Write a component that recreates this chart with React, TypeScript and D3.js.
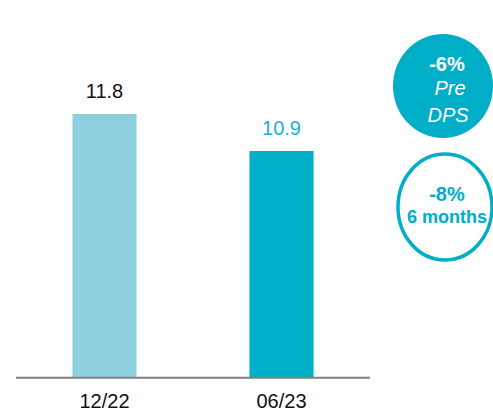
import React from "react";
import * as d3 from "d3";

const categories = ["12/22", "06/23"];
const values = [11.8, 10.9];
const valueLabels = ["11.8", "10.9"];
const badgeFilledLines = ["-6%", "Pre", "DPS"];
const badgeOutlineLines = ["-8%", "6 months"];

const W = 493;
const H = 411;
const FONT = "'Liberation Sans', Arial, sans-serif";
const TEAL = "#00AEC7";
const LIGHT = "#8ECFE0";

export default function App() {
  const x = d3
    .scaleBand<string>()
    .domain(categories)
    .range([16, 370])
    .paddingInner(0.638)
    .paddingOuter(0.319);
  const y = d3.scaleLinear().domain([5.4, 11.8]).range([377, 114]);
  const barColors = [LIGHT, TEAL];
  const labelColors = ["#111111", "#1AB2CA"];

  return (
    <svg
      width={W}
      height={H}
      style={{ position: "absolute", left: 0, top: 0, background: "#fff" }}
      fontFamily={FONT}
    >
      {categories.map((c, i) => (
        <g key={c}>
          <rect
            x={x(c)}
            y={y(values[i])}
            width={x.bandwidth()}
            height={y(5.4) - y(values[i])}
            fill={barColors[i]}
          />
          <text
            x={(x(c) as number) + x.bandwidth() / 2}
            y={y(values[i]) - 16}
            textAnchor="middle"
            fontSize={20}
            fill={labelColors[i]}
          >
            {valueLabels[i]}
          </text>
          <text
            x={(x(c) as number) + x.bandwidth() / 2}
            y={408}
            textAnchor="middle"
            fontSize={20}
            fill="#111111"
          >
            {c}
          </text>
        </g>
      ))}
      <line x1={16} x2={370} y1={377.7} y2={377.7} stroke="#808080" strokeWidth={2} />

      <ellipse cx={443} cy={86} rx={50} ry={52} fill={TEAL} />
      <text x={447} y={70.5} textAnchor="middle" fontSize={20} fontWeight="bold" fill="#fff">
        {badgeFilledLines[0]}
      </text>
      <text x={450} y={94.5} textAnchor="middle" fontSize={20} fontStyle="italic" fill="#fff">
        {badgeFilledLines[1]}
      </text>
      <text x={448} y={121.5} textAnchor="middle" fontSize={20} fontStyle="italic" fill="#fff">
        {badgeFilledLines[2]}
      </text>

      <ellipse cx={445} cy={207} rx={47} ry={53} fill="#fff" stroke={TEAL} strokeWidth={3.5} />
      <text x={447} y={201} textAnchor="middle" fontSize={20} fontWeight="bold" fill={TEAL}>
        {badgeOutlineLines[0]}
      </text>
      <text x={447} y={222.5} textAnchor="middle" fontSize={18} fontWeight="bold" fill={TEAL}>
        {badgeOutlineLines[1]}
      </text>
    </svg>
  );
}
